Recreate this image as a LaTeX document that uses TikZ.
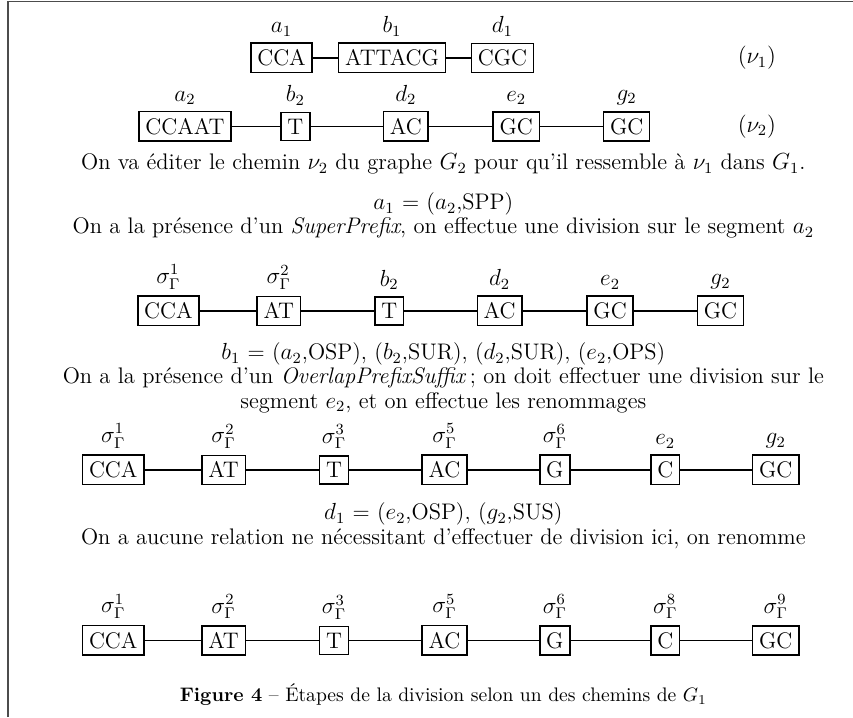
\documentclass[tikz,border=0pt]{standalone}
\usetikzlibrary{positioning}

\tikzset{
  seg/.style={draw, line width=0.8pt},
  nom/.style={inner sep=2pt},
  lien/.style={line width=0.8pt},
  txt/.style={align=center, inner sep=0pt}
}

\begin{document}
\begin{tikzpicture}[font=\fontsize{11.6}{12.6}\selectfont]
  \useasboundingbox (0,0) rectangle (15.45,-12.99);
  \coordinate (FA) at (0.145,-12.99);
  \coordinate (FB) at (0.145,-0.03);
  \coordinate (FC) at (15.45,-0.03);
  \draw[black!70, line width=0.8pt] (FA) -- (FB) -- (FC);

  % nu_1
  \node[seg] (a1) at (5.10,-1.05) {CCA};
  \node[seg] (b1) at (7.10,-1.05) {ATTACG};
  \node[seg] (d1) at (9.10,-1.05) {CGC};
  \node[nom, above=1pt of a1] (la1) {$a_1$};
  \node[nom, above=1pt of b1] (lb1) {$b_1$};
  \node[nom, above=1pt of d1] (ld1) {$d_1$};
  \draw[lien] (a1) -- (b1) -- (d1);
  \node (nu1) at (13.71,-1.05) {$(\nu_1)$};

  % nu_2
  \node[seg] (a2) at (3.35,-2.29) {CCAAT};
  \node[seg] (b2) at (5.35,-2.29) {T};
  \node[seg] (d2) at (7.35,-2.29) {AC};
  \node[seg] (e2) at (9.35,-2.29) {GC};
  \node[seg] (g2) at (11.35,-2.29) {GC};
  \node[nom, above=1pt of a2] (la2) {$a_2$};
  \node[nom, above=1pt of b2] (lb2) {$b_2$};
  \node[nom, above=1pt of d2] (ld2) {$d_2$};
  \node[nom, above=1pt of e2] (le2) {$e_2$};
  \node[nom, above=1pt of g2] (lg2) {$g_2$};
  \draw[lien] (a2) -- (b2) -- (d2) -- (e2) -- (g2);
  \node (nu2) at (13.71,-2.29) {$(\nu_2)$};

  \node[txt] (t1) at (8.03,-2.97) {On va éditer le chemin $\nu_2$ du graphe $G_2$ pour qu'il ressemble à $\nu_1$ dans $G_1$.};
  \node[txt] (t2) at (8.03,-3.70) {$a_1$ = ($a_2$,SPP)};
  \node[txt] (t3) at (8.03,-4.13) {On a la présence d'un \textit{SuperPrefix}, on effectue une division sur le segment $a_2$};

  % etape 1
  \node[seg] (pA) at (3.05,-5.63) {CCA};
  \node[seg] (pB) at (5.05,-5.63) {AT};
  \node[seg] (pC) at (7.05,-5.63) {T};
  \node[seg] (pD) at (9.05,-5.63) {AC};
  \node[seg] (pE) at (11.05,-5.63) {GC};
  \node[seg] (pF) at (13.05,-5.63) {GC};
  \node[nom, above=1pt of pA] (lpA) {$\sigma_\Gamma^1$};
  \node[nom, above=1pt of pB] (lpB) {$\sigma_\Gamma^2$};
  \node[nom, above=1pt of pC] (lpC) {$b_2$};
  \node[nom, above=1pt of pD] (lpD) {$d_2$};
  \node[nom, above=1pt of pE] (lpE) {$e_2$};
  \node[nom, above=1pt of pF] (lpF) {$g_2$};
  \draw[lien] (pA) -- (pB) -- (pC) -- (pD) -- (pE) -- (pF);

  \node[txt] (t4) at (8.03,-6.41) {$b_1$ = ($a_2$,OSP), ($b_2$,SUR), ($d_2$,SUR), ($e_2$,OPS)};
  \node[txt] (t5) at (8.03,-7.07) {On a la présence d'un \textit{OverlapPrefixSuffix}\,; on doit effectuer une division sur le\\segment $e_2$, et on effectue les renommages};

  % etape 2
  \node[seg] (qA) at (2.05,-8.51) {CCA};
  \node[seg] (qB) at (4.05,-8.51) {AT};
  \node[seg] (qC) at (6.05,-8.51) {T};
  \node[seg] (qD) at (8.05,-8.51) {AC};
  \node[seg] (qE) at (10.05,-8.51) {G};
  \node[seg] (qF) at (12.05,-8.51) {C};
  \node[seg] (qG) at (14.05,-8.51) {GC};
  \node[nom, above=1pt of qA] (lqA) {$\sigma_\Gamma^1$};
  \node[nom, above=1pt of qB] (lqB) {$\sigma_\Gamma^2$};
  \node[nom, above=1pt of qC] (lqC) {$\sigma_\Gamma^3$};
  \node[nom, above=1pt of qD] (lqD) {$\sigma_\Gamma^5$};
  \node[nom, above=1pt of qE] (lqE) {$\sigma_\Gamma^6$};
  \node[nom, above=1pt of qF] (lqF) {$e_2$};
  \node[nom, above=1pt of qG] (lqG) {$g_2$};
  \draw[lien] (qA) -- (qB) -- (qC) -- (qD) -- (qE) -- (qF) -- (qG);

  \node[txt] (t6) at (8.03,-9.31) {$d_1$ = ($e_2$,OSP), ($g_2$,SUS)};
  \node[txt] (t7) at (8.03,-9.75) {On a aucune relation ne nécessitant d'effectuer de division ici, on renomme};

  % etape 3
  \node[seg] (rA) at (2.05,-11.60) {CCA};
  \node[seg] (rB) at (4.05,-11.60) {AT};
  \node[seg] (rC) at (6.05,-11.60) {T};
  \node[seg] (rD) at (8.05,-11.60) {AC};
  \node[seg] (rE) at (10.05,-11.60) {G};
  \node[seg] (rF) at (12.05,-11.60) {C};
  \node[seg] (rG) at (14.05,-11.60) {GC};
  \node[nom, above=1pt of rA] (lrA) {$\sigma_\Gamma^1$};
  \node[nom, above=1pt of rB] (lrB) {$\sigma_\Gamma^2$};
  \node[nom, above=1pt of rC] (lrC) {$\sigma_\Gamma^3$};
  \node[nom, above=1pt of rD] (lrD) {$\sigma_\Gamma^5$};
  \node[nom, above=1pt of rE] (lrE) {$\sigma_\Gamma^6$};
  \node[nom, above=1pt of rF] (lrF) {$\sigma_\Gamma^8$};
  \node[nom, above=1pt of rG] (lrG) {$\sigma_\Gamma^9$};
  \draw[lien] (rA) -- (rB) -- (rC) -- (rD) -- (rE) -- (rF) -- (rG);

  \node[txt, font=\fontsize{10.1}{12}\selectfont] (cap) at (8.03,-12.58) {\textbf{Figure 4} -- Étapes de la division selon un des chemins de $G_1$};
\end{tikzpicture}
\end{document}
